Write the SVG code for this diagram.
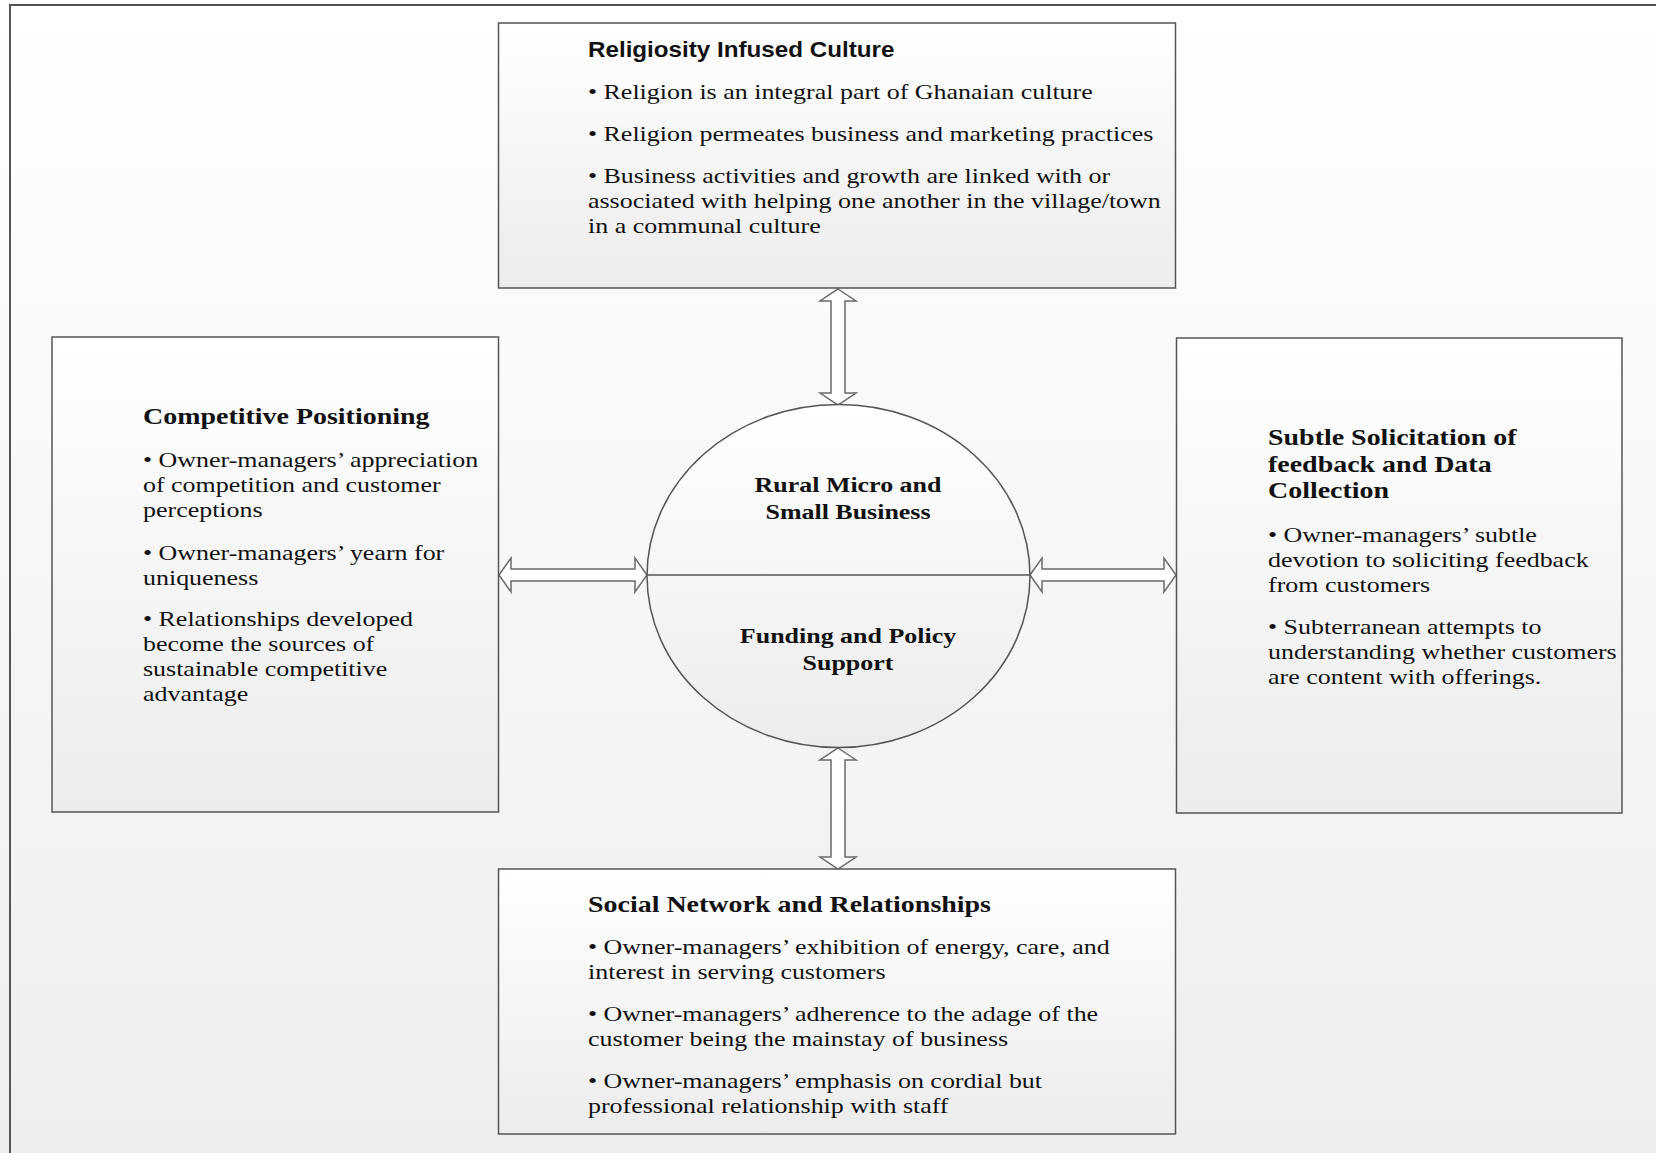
<svg xmlns="http://www.w3.org/2000/svg" width="1656" height="1153" viewBox="0 0 1656 1153">
  <defs>
    <linearGradient id="pageFill" x1="0" y1="0" x2="0" y2="1">
      <stop offset="0" stop-color="#ffffff"/>
      <stop offset="1" stop-color="#eeeeee"/>
    </linearGradient>
    <linearGradient id="boxFill" x1="0" y1="0" x2="0" y2="1">
      <stop offset="0" stop-color="#ffffff"/>
      <stop offset="1" stop-color="#ececec"/>
    </linearGradient>
    <style>
      .box { fill: url(#boxFill); stroke: #555555; stroke-width: 1.5; }
      .arrow { fill: #ffffff; stroke: #6a6a6a; stroke-width: 1.5; stroke-linejoin: miter; }
      .body { font-family: "Liberation Serif", "Times New Roman", serif; font-size: 22px; fill: #111111; }
      .head { font-family: "Liberation Serif", "Times New Roman", serif; font-size: 23.7px; font-weight: bold; fill: #111111; }
      .headSans { font-family: "Liberation Sans", Arial, sans-serif; font-size: 22px; font-weight: bold; fill: #111111; }
      .core { font-family: "Liberation Serif", "Times New Roman", serif; font-size: 22px; font-weight: bold; fill: #111111; text-anchor: middle; }
    </style>
  </defs>

  <!-- page background and frame -->
  <rect x="0" y="0" width="1656" height="1153" fill="url(#pageFill)"/>
  <path d="M10,1153 V5 H1656" fill="none" stroke="#555555" stroke-width="2"/>

  <!-- connectors: double-headed block arrows -->
  <g id="connectors">
    <polygon class="arrow" points="838,289 856,301 845,301 845,393 856,393 838,405 820,393 831,393 831,301 820,301"/>
    <polygon class="arrow" points="838,748 856,760 845,760 845,857 856,857 838,869 820,857 831,857 831,760 820,760"/>
    <polygon class="arrow" points="499,575 511,558 511,569 635,569 635,558 647,575 635,592 635,581 511,581 511,592"/>
    <polygon class="arrow" points="1030,575 1042,558 1042,569 1164,569 1164,558 1176,575 1164,592 1164,581 1042,581 1042,592"/>
  </g>

  <!-- top: religiosity -->
  <g id="religiosity">
    <rect class="box" x="498.5" y="23" width="677" height="265"/>
    <g transform="translate(588,0) scale(1.1,1)">
      <text class="headSans" x="0" y="57">Religiosity Infused Culture</text>
    </g>
    <g transform="translate(588,0) scale(1.18,1)">
      <text class="body" x="0" y="99">• Religion is an integral part of Ghanaian culture</text>
      <text class="body" x="0" y="141">• Religion permeates business and marketing practices</text>
      <text class="body" x="0" y="183">• Business activities and growth are linked with or</text>
      <text class="body" x="0" y="208">associated with helping one another in the village/town</text>
      <text class="body" x="0" y="233">in a communal culture</text>
    </g>
  </g>

  <!-- left: competitive positioning -->
  <g id="competitive">
    <rect class="box" x="52" y="337" width="446.5" height="475"/>
    <g transform="translate(143,0) scale(1.18,1)">
      <text class="head" x="0" y="424">Competitive Positioning</text>
      <text class="body" x="0" y="467">• Owner-managers’ appreciation</text>
      <text class="body" x="0" y="492">of competition and customer</text>
      <text class="body" x="0" y="517">perceptions</text>
      <text class="body" x="0" y="560">• Owner-managers’ yearn for</text>
      <text class="body" x="0" y="585">uniqueness</text>
      <text class="body" x="0" y="626">• Relationships developed</text>
      <text class="body" x="0" y="651">become the sources of</text>
      <text class="body" x="0" y="676">sustainable competitive</text>
      <text class="body" x="0" y="701">advantage</text>
    </g>
  </g>

  <!-- right: feedback solicitation -->
  <g id="solicitation">
    <rect class="box" x="1176.5" y="338" width="445.5" height="475"/>
    <g transform="translate(1268,0) scale(1.18,1)">
      <text class="head" x="0" y="445">Subtle Solicitation of</text>
      <text class="head" x="0" y="472">feedback and Data</text>
      <text class="head" x="0" y="498">Collection</text>
      <text class="body" x="0" y="542">• Owner-managers’ subtle</text>
      <text class="body" x="0" y="567">devotion to soliciting feedback</text>
      <text class="body" x="0" y="592">from customers</text>
      <text class="body" x="0" y="634">• Subterranean attempts to</text>
      <text class="body" x="0" y="659">understanding whether customers</text>
      <text class="body" x="0" y="684">are content with offerings.</text>
    </g>
  </g>

  <!-- bottom: social network -->
  <g id="social">
    <rect class="box" x="498.5" y="869" width="677" height="265"/>
    <g transform="translate(588,0) scale(1.18,1)">
      <text class="head" x="0" y="912">Social Network and Relationships</text>
      <text class="body" x="0" y="954">• Owner-managers’ exhibition of energy, care, and</text>
      <text class="body" x="0" y="979">interest in serving customers</text>
      <text class="body" x="0" y="1021">• Owner-managers’ adherence to the adage of the</text>
      <text class="body" x="0" y="1046">customer being the mainstay of business</text>
      <text class="body" x="0" y="1088">• Owner-managers’ emphasis on cordial but</text>
      <text class="body" x="0" y="1113">professional relationship with staff</text>
    </g>
  </g>

  <!-- centre: business and support -->
  <g id="core">
    <ellipse class="box" cx="838.5" cy="576" rx="191.5" ry="171.5"/>
    <line x1="647" y1="575" x2="1030" y2="575" stroke="#555555" stroke-width="1.5"/>
    <g transform="translate(848,0) scale(1.18,1)">
      <text class="core" x="0" y="492">Rural Micro and</text>
      <text class="core" x="0" y="519">Small Business</text>
      <text class="core" x="0" y="643">Funding and Policy</text>
      <text class="core" x="0" y="670">Support</text>
    </g>
  </g>
</svg>
